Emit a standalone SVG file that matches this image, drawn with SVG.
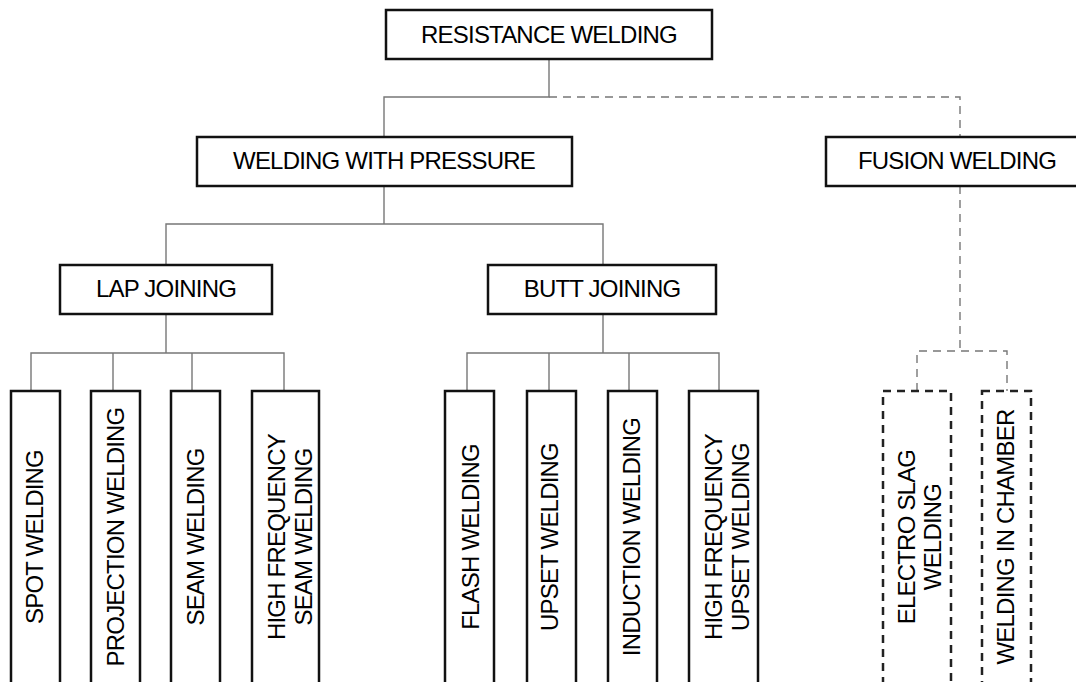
<svg xmlns="http://www.w3.org/2000/svg" width="1076" height="682" viewBox="0 0 1076 682">
<style>
.box{fill:#fff;stroke:#111;stroke-width:2.5}
.dbox{fill:#fff;stroke:#222;stroke-width:2.5;stroke-dasharray:8 6}
.ln{fill:none;stroke:#777;stroke-width:1.4}
.dl{fill:none;stroke:#777;stroke-width:1.4;stroke-dasharray:8 6}
text{font-family:"Liberation Sans",Arial,sans-serif;font-size:24px;letter-spacing:-0.8px;fill:#000;text-anchor:middle}
</style>
<rect width="1076" height="682" fill="#fff"/>
<g id="connectors">
<path class="ln" d="M549,59 V97 H384 V137"/>
<path class="dl" d="M549,97 H960 V137"/>
<path class="ln" d="M384,186 V224 M166,265 V224 H603 V265"/>
<path class="ln" d="M166,314 V353 M31,391 V353 H284 V391 M113,353 V391 M192,353 V391"/>
<path class="ln" d="M603,314 V353 M467,391 V353 H719 V391 M549,353 V391 M629,353 V391"/>
<path class="dl" d="M960,186 V351 M917,391 V351 H1007 V391"/>
</g>
<g id="resistance-welding"><rect class="box" x="386" y="10" width="326" height="49"/><text x="549" y="43">RESISTANCE WELDING</text></g>
<g id="welding-with-pressure"><rect class="box" x="197" y="137" width="375" height="49"/><text x="384" y="169">WELDING WITH PRESSURE</text></g>
<g id="fusion-welding"><rect class="box" x="826" y="137" width="270" height="49"/><text x="957" y="169">FUSION WELDING</text></g>
<g id="lap-joining"><rect class="box" x="60" y="265" width="212" height="49"/><text x="166" y="297">LAP JOINING</text></g>
<g id="butt-joining"><rect class="box" x="488" y="265" width="228" height="49"/><text x="602" y="297">BUTT JOINING</text></g>
<g id="spot-welding"><rect class="box" x="11" y="391" width="49" height="310"/><text transform="translate(43,537) rotate(-90)">SPOT WELDING</text></g>
<g id="projection-welding"><rect class="box" x="91" y="391" width="49" height="310"/><text transform="translate(124,537) rotate(-90)">PROJECTION WELDING</text></g>
<g id="seam-welding"><rect class="box" x="171" y="391" width="49" height="310"/><text transform="translate(204,537) rotate(-90)">SEAM WELDING</text></g>
<g id="hf-seam-welding"><rect class="box" x="252" y="391" width="67" height="310"/><text transform="translate(285,537) rotate(-90)">HIGH FREQUENCY</text><text transform="translate(312,537) rotate(-90)">SEAM WELDING</text></g>
<g id="flash-welding"><rect class="box" x="445" y="391" width="49" height="310"/><text transform="translate(479,537) rotate(-90)">FLASH WELDING</text></g>
<g id="upset-welding"><rect class="box" x="527" y="391" width="49" height="310"/><text transform="translate(558,537) rotate(-90)">UPSET WELDING</text></g>
<g id="induction-welding"><rect class="box" x="608" y="391" width="49" height="310"/><text transform="translate(640,537) rotate(-90)">INDUCTION WELDING</text></g>
<g id="hf-upset-welding"><rect class="box" x="689" y="391" width="69" height="310"/><text transform="translate(722,537) rotate(-90)">HIGH FREQUENCY</text><text transform="translate(749,537) rotate(-90)">UPSET WELDING</text></g>
<g id="electro-slag-welding"><rect class="dbox" x="883" y="391" width="68" height="310"/><text transform="translate(915,537) rotate(-90)">ELECTRO SLAG</text><text transform="translate(941,537) rotate(-90)">WELDING</text></g>
<g id="welding-in-chamber"><rect class="dbox" x="982" y="391" width="49" height="310"/><text transform="translate(1014,537) rotate(-90)">WELDING IN CHAMBER</text></g>
</svg>
